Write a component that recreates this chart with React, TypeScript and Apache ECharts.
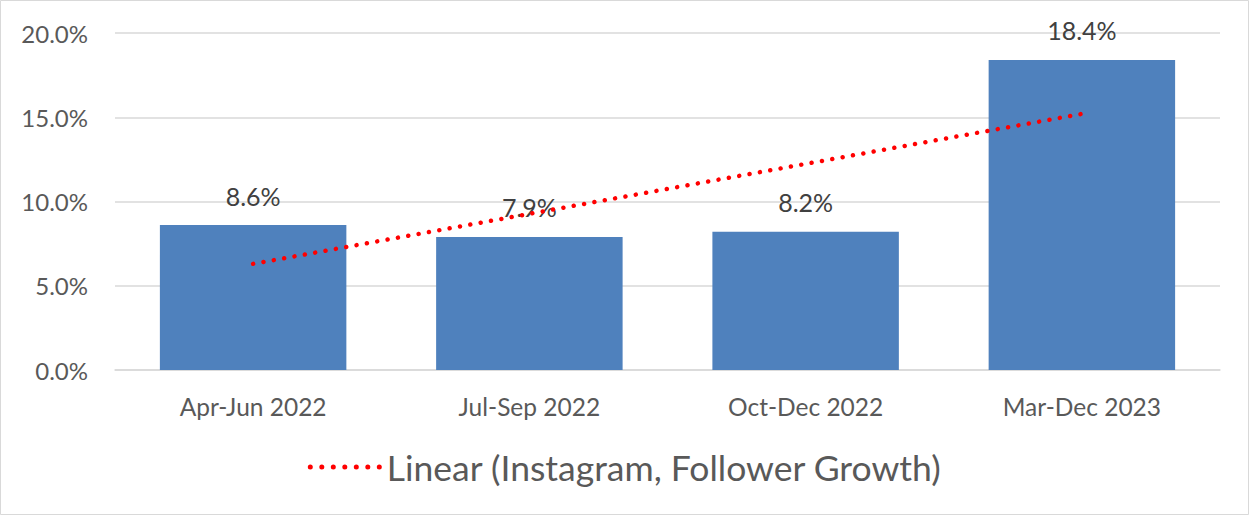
import React, { useEffect, useRef } from "react";
import * as echarts from "echarts";

const categories = ["Apr-Jun 2022", "Jul-Sep 2022", "Oct-Dec 2022", "Mar-Dec 2023"];
const growthValues = [8.6, 7.9, 8.2, 18.4];
// Trendline endpoints (first and last category)
const trendValues = [6.3, null, null, 15.2];
const yTicks = [0, 5, 10, 15, 20];
const trendName = "Linear (Instagram, Follower Growth)";

const FONT = "Lato, 'Noto Sans', sans-serif";

function dottedIcon(n: number, step: number, r: number) {
  let d = "path://";
  for (let i = 0; i < n; i++) {
    const cx = r + i * step;
    d += `M${cx - r},${r} a${r},${r} 0 1,0 ${2 * r},0 a${r},${r} 0 1,0 ${-2 * r},0 `;
  }
  return d.trim();
}

export default function App() {
  const ref = useRef<HTMLDivElement>(null);
  useEffect(() => {
    if (!ref.current) return;
    const chart = echarts.init(ref.current, null, { renderer: "svg" });
    chart.setOption({
      animation: false,
      backgroundColor: "#ffffff",
      textStyle: { fontFamily: FONT },
      grid: { left: 115, right: 30, top: 33, bottom: 146, containLabel: false },
      graphic: [
        {
          type: "rect",
          shape: { x: 0.5, y: 0.5, width: 1248, height: 514 },
          style: { fill: "none", stroke: "#d9d9d9", lineWidth: 1 },
          silent: true,
        },
      ],
      legend: {
        data: [{ name: trendName, icon: dottedIcon(7, 11.5, 2.5) }],
        top: 444,
        left: "center",
        itemWidth: 74,
        itemHeight: 5,
        itemStyle: { color: "#ff0000", borderWidth: 0 },
        textStyle: { fontSize: 35.5, color: "#595959", fontFamily: FONT },
      },
      xAxis: {
        type: "category",
        data: categories,
        axisLine: { lineStyle: { color: "#d9d9d9", width: 1.5 } },
        axisTick: { show: false },
        axisLabel: { color: "#595959", fontSize: 24.5, margin: 24, fontFamily: FONT },
      },
      yAxis: {
        type: "value",
        min: yTicks[0],
        max: yTicks[yTicks.length - 1],
        interval: 5,
        axisLine: { show: false },
        axisTick: { show: false },
        splitLine: { lineStyle: { color: "#d9d9d9", width: 1.5 } },
        axisLabel: {
          color: "#595959",
          fontSize: 24,
          margin: 27,
          fontFamily: FONT,
          formatter: (v: number) => v.toFixed(1) + "%",
        },
      },
      series: [
        {
          name: "Instagram, Follower Growth",
          type: "bar",
          data: growthValues,
          barWidth: "67.5%",
          itemStyle: { color: "#4F81BD" },
          label: {
            show: true,
            position: "top",
            distance: 17,
            color: "#404040",
            fontSize: 25,
            fontFamily: FONT,
            formatter: (p: any) => p.value.toFixed(1) + "%",
          },
          z: 2,
        },
        {
          name: trendName,
          type: "line",
          data: trendValues,
          connectNulls: true,
          symbol: "none",
          lineStyle: { color: "#ff0000", width: 4.5, type: [0.01, 10.5], cap: "round" },
          itemStyle: { color: "#ff0000" },
          z: 3,
        },
      ],
    });
    return () => chart.dispose();
  }, []);
  return (
    <div
      ref={ref}
      style={{ position: "fixed", left: 0, top: 0, width: 1250, height: 516 }}
    />
  );
}
